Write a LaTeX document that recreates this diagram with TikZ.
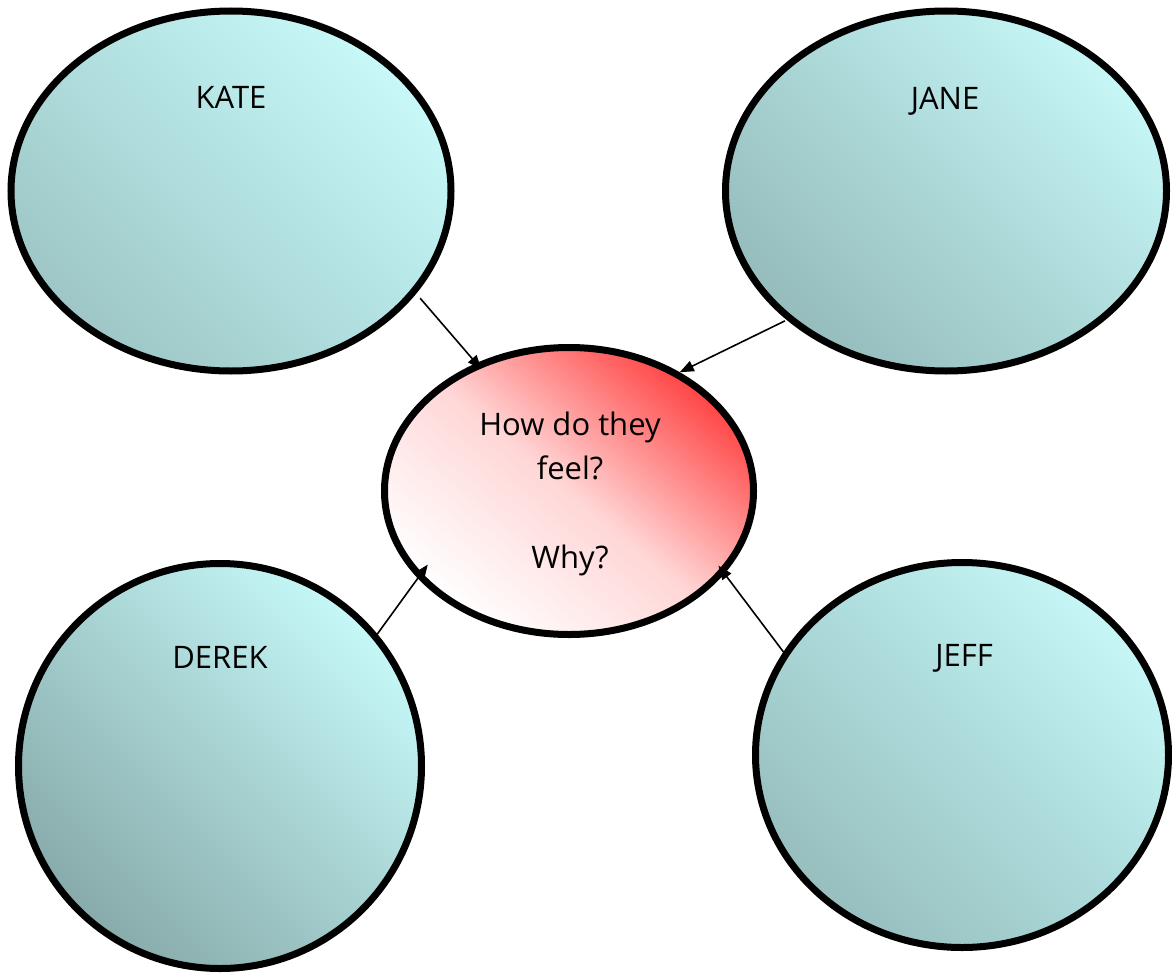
\documentclass[tikz,border=0pt]{standalone}
\usepackage{fontspec}
\setmainfont{Open Sans}
\usetikzlibrary{shapes.geometric,arrows.meta}
\definecolor{kTop}{HTML}{C8F8F8}
\definecolor{kMid}{HTML}{B2E0E0}
\definecolor{kBot}{HTML}{9EC6C6}
\definecolor{jTop}{HTML}{C6F6F6}
\definecolor{jMid}{HTML}{ACD8D8}
\definecolor{jBot}{HTML}{96BCBC}
\definecolor{dTop}{HTML}{C6F8F8}
\definecolor{dMid}{HTML}{A6D0D0}
\definecolor{dBot}{HTML}{88AAAA}
\definecolor{fTop}{HTML}{C6F6F6}
\definecolor{fMid}{HTML}{ACDADA}
\definecolor{fBot}{HTML}{98BEBE}
\definecolor{rTop}{HTML}{FF4444}
\definecolor{rMid}{HTML}{FFD6D6}
\begin{document}
\begin{tikzpicture}[x=1pt,y=-1pt,
  bubble/.style={ellipse, draw=black, line width=7pt, inner sep=0pt},
  lbl/.style={anchor=base, font=\fontsize{31}{44}\selectfont, inner sep=0pt},
  link/.style={line width=1.6pt, -{Triangle[length=14pt,width=11pt]}}]
\useasboundingbox (0,0) rectangle (1172,974);
% outer circles
\node[bubble, minimum width=440pt, minimum height=360pt,
  top color=kTop, bottom color=kBot, middle color=kMid, shading angle=-45] (kate) at (231,191) {};
\node[bubble, minimum width=441pt, minimum height=360pt,
  top color=jTop, bottom color=jBot, middle color=jMid, shading angle=-45] (jane) at (946,191) {};
\node[bubble, minimum width=403pt, minimum height=405pt,
  top color=dTop, bottom color=dBot, middle color=dMid, shading angle=-45] (derek) at (220,766) {};
\node[bubble, minimum width=413pt, minimum height=385pt,
  top color=fTop, bottom color=fBot, middle color=fMid, shading angle=-45] (jeff) at (962,755) {};
% centre
\node[bubble, minimum width=369pt, minimum height=287pt,
  top color=rTop, bottom color=white, middle color=rMid, shading angle=-40] (feel) at (569,491) {};
% connectors
\draw[link, shorten <=6pt, shorten >=-8pt] (kate.-29.4) -- (feel.126);
\draw[link, shorten <=2pt] (jane.219.7) -- (feel.47.3);
\draw[link, shorten >=-17pt] (derek.40) -- (feel.210.1);
\draw[link, shorten >=-10pt] (jeff.150.9) -- (feel.-28.3);
% labels
\node[lbl] (katet) at (231,108) {KATE};
\node[lbl] (janet) at (945,109) {JANE};
\node[lbl] (derekt) at (220,668) {DEREK};
\node[lbl] (jefft) at (964,666) {JEFF};
\node[lbl] (q1) at (570,435) {How do they};
\node[lbl] (q2) at (570,479) {feel?};
\node[lbl] (q3) at (570,568) {Why?};
\end{tikzpicture}
\end{document}
